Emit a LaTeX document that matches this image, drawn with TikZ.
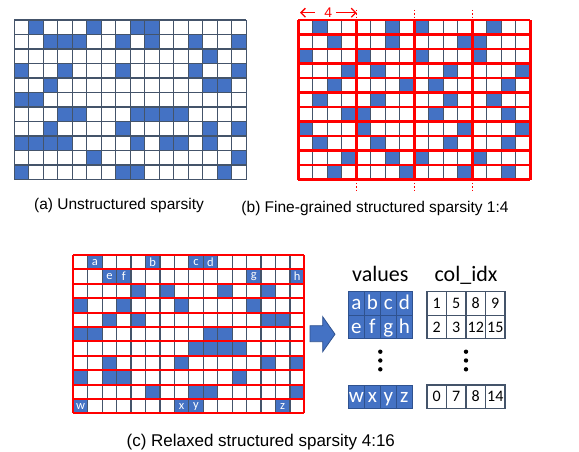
\documentclass[tikz,border=0pt]{standalone}
\usepackage{fontspec}
\setmainfont{Liberation Sans}
\newfontfamily\calibri{Carlito}
\usetikzlibrary{arrows.meta}

\definecolor{cellblue}{HTML}{4472C4}
\definecolor{cellline}{HTML}{44546A}
\definecolor{boxline}{HTML}{2F528F}
\definecolor{maskred}{HTML}{FF0000}

\tikzset{
  gridline/.style={draw=cellline, line width=1.2pt},
  redline/.style={draw=maskred, line width=2pt},
  reddots/.style={draw=maskred, line width=1.4pt, dotted},
  nzcell/.style={fill=cellblue},
  celltag/.style={text=white, inner sep=0pt, font=\calibri\fontsize{12.5}{12.5}\selectfont},
  valcell/.style={draw=boxline, fill=cellblue, text=white, line width=0.8pt,
    minimum width=16pt, minimum height=23.5pt, inner sep=0pt, text height=14.5pt, text depth=2pt,
    font=\calibri\fontsize{21}{21}\selectfont},
  idxcell/.style={draw=cellline, fill=white, line width=1.1pt,
    minimum width=19.5pt, minimum height=23.5pt, inner sep=0pt, text height=11pt, text depth=1pt,
    font=\calibri\fontsize{16}{16}\selectfont},
  header/.style={anchor=base, font=\calibri\fontsize{22}{22}\selectfont},
  caption/.style={anchor=base, font=\fontsize{15.5}{18}\selectfont},
  widtharrow/.style={maskred, line width=1.3pt, -{Straight Barb[length=4.5pt,width=9pt]}},
}

\begin{document}
\begin{tikzpicture}[x=1pt, y=-1pt]
  \useasboundingbox (0,0) rectangle (579,451);

  % (a) unstructured
  \begin{scope}[shift={(14.3,20)}, x=14.5pt, y=-14.5pt]
    \foreach \r/\cols in {0/{1,5,8,9}, 1/{2,3,4,7,9,12,15}, 2/{13}, 3/{0,3,7,12,15},
        4/{2,13,14}, 5/{0,1}, 6/{3,4,8,9,10,11}, 7/{2,7,13,15},
        8/{0,1,2,3,8,10,11,13}, 9/{5,15}, 10/{0,7,8,14}}
      \foreach \c in \cols \fill[nzcell] (\c,\r) rectangle ++(1,1);
    \foreach \i in {0,...,16} \draw[gridline] (\i,0) -- (\i,11);
    \foreach \j in {0,...,11} \draw[gridline] (0,\j) -- (16,\j);
  \end{scope}

  % (b) fine-grained 1:4
  \begin{scope}[shift={(298.3,20)}, x=14.5pt, y=-14.5pt]
    \foreach \r/\cols in {0/{1,6,8,13}, 1/{2,6,11,12}, 2/{0,4,8,12}, 3/{3,5,10,15},
        4/{2,7,9,14}, 5/{1,5,10,13}, 6/{3,4,9,14}, 7/{0,4,11,15},
        8/{1,5,10,14}, 9/{3,6,8,12}, 10/{2,7,11,14}}
      \foreach \c in \cols \fill[nzcell] (\c,\r) rectangle ++(1,1);
    \foreach \i in {1,2,3,5,6,7,9,10,11,13,14,15} \draw[gridline] (\i,0) -- (\i,11);
    \foreach \j in {0,...,11} \draw[redline, line width=2.6pt] (0,\j) -- (16,\j);
    \foreach \i in {0,4,8,12,16} \draw[redline, line width=2.6pt] (\i,0) -- (\i,11);
    \foreach \i in {4,8,12} {
      \draw[reddots] (\i,-0.7) -- (\i,0);
      \draw[reddots] (\i,11) -- (\i,11.75);
    }
  \end{scope}
  \node[text=maskred, inner sep=0pt, font=\fontsize{14}{14}\selectfont] (four) at (328.3,12.7) {4};
  \coordinate (fourL) at (300,12.7);
  \coordinate (fourR) at (356.7,12.7);
  \draw[widtharrow] ([xshift=-9pt]four.west) -- (fourL);
  \draw[widtharrow] ([xshift=4pt]four.east) -- (fourR);

  % (c) relaxed 4:16
  \begin{scope}[shift={(73.3,255)}, x=14.44pt, y=-14.4pt]
    \foreach \r/\cols in {2/{4,6,10,13}, 3/{0,3,7,12}, 4/{2,4,13,14}, 5/{0,1,9,10},
        6/{8,9,10,11}, 7/{2,7,13,15}, 8/{0,2,3,11}, 9/{5,8,9,15}}
      \foreach \c in \cols \fill[nzcell] (\c,\r) rectangle ++(1,1);
    \foreach \r/\c/\t in {0/1/a, 0/5/b, 0/8/c, 0/9/d, 1/2/e, 1/3/f, 1/12/g, 1/15/h,
        10/0/w, 10/7/x, 10/8/y, 10/14/z} {
      \fill[nzcell] (\c,\r) rectangle ++(1,1);
      \node[celltag] (tag-\t) at (\c+0.5,\r+0.5) {\t};
    }
    \foreach \i in {1,...,15} \draw[gridline] (\i,0) -- (\i,11);
    \foreach \j in {0,...,11} \draw[redline] (0,\j) -- (16,\j);
    \foreach \i in {0,16} \draw[redline] (\i,0) -- (\i,11);
  \end{scope}

  % block arrow
  \draw[fill=cellblue, draw=boxline, line width=0.8pt] (310,325.7) -- (322.7,325.7) -- (322.7,316.7)
    -- (335,334.2) -- (322.7,351.7) -- (322.7,341.7) -- (310,341.7) -- cycle;

  % values / col_idx
  \node[header] (valhead) at (380.3,281) {values};
  \node[header] (idxhead) at (466,281) {col\_idx};
  \foreach \t [count=\i from 0] in {a,b,c,d} \node[valcell] (val-\t) at (356.3+16*\i,303.5) {\t};
  \foreach \t [count=\i from 0] in {e,f,g,h} \node[valcell] (val-\t) at (356.3+16*\i,327) {\t};
  \foreach \t [count=\i from 0] in {w,x,y,z} \node[valcell] (val-\t) at (356.3+16*\i,396.7) {\t};
  \foreach \n [count=\i from 0] in {1,5,8,9} \node[idxcell] (idx-a\i) at (436.75+19.5*\i,303.5) {\n};
  \foreach \n [count=\i from 0] in {2,3,12,15} \node[idxcell] (idx-b\i) at (436.75+19.5*\i,327) {\n};
  \foreach \n [count=\i from 0] in {0,7,8,14} \node[idxcell] (idx-z\i) at (436.75+19.5*\i,396.7) {\n};
  \foreach \y in {351.7,360.5,369.3} {
    \fill (380.3,\y) circle (2.2pt);
    \fill (466,\y) circle (2.2pt);
  }

  % captions
  \node[caption] (capA) at (119,209) {(a) Unstructured sparsity};
  \node[caption] (capB) at (375,212.5) {(b) Fine-grained structured sparsity 1:4};
  \node[caption, font=\fontsize{17}{20}\selectfont] (capC) at (260.8,446) {(c) Relaxed structured sparsity 4:16};
\end{tikzpicture}
\end{document}
